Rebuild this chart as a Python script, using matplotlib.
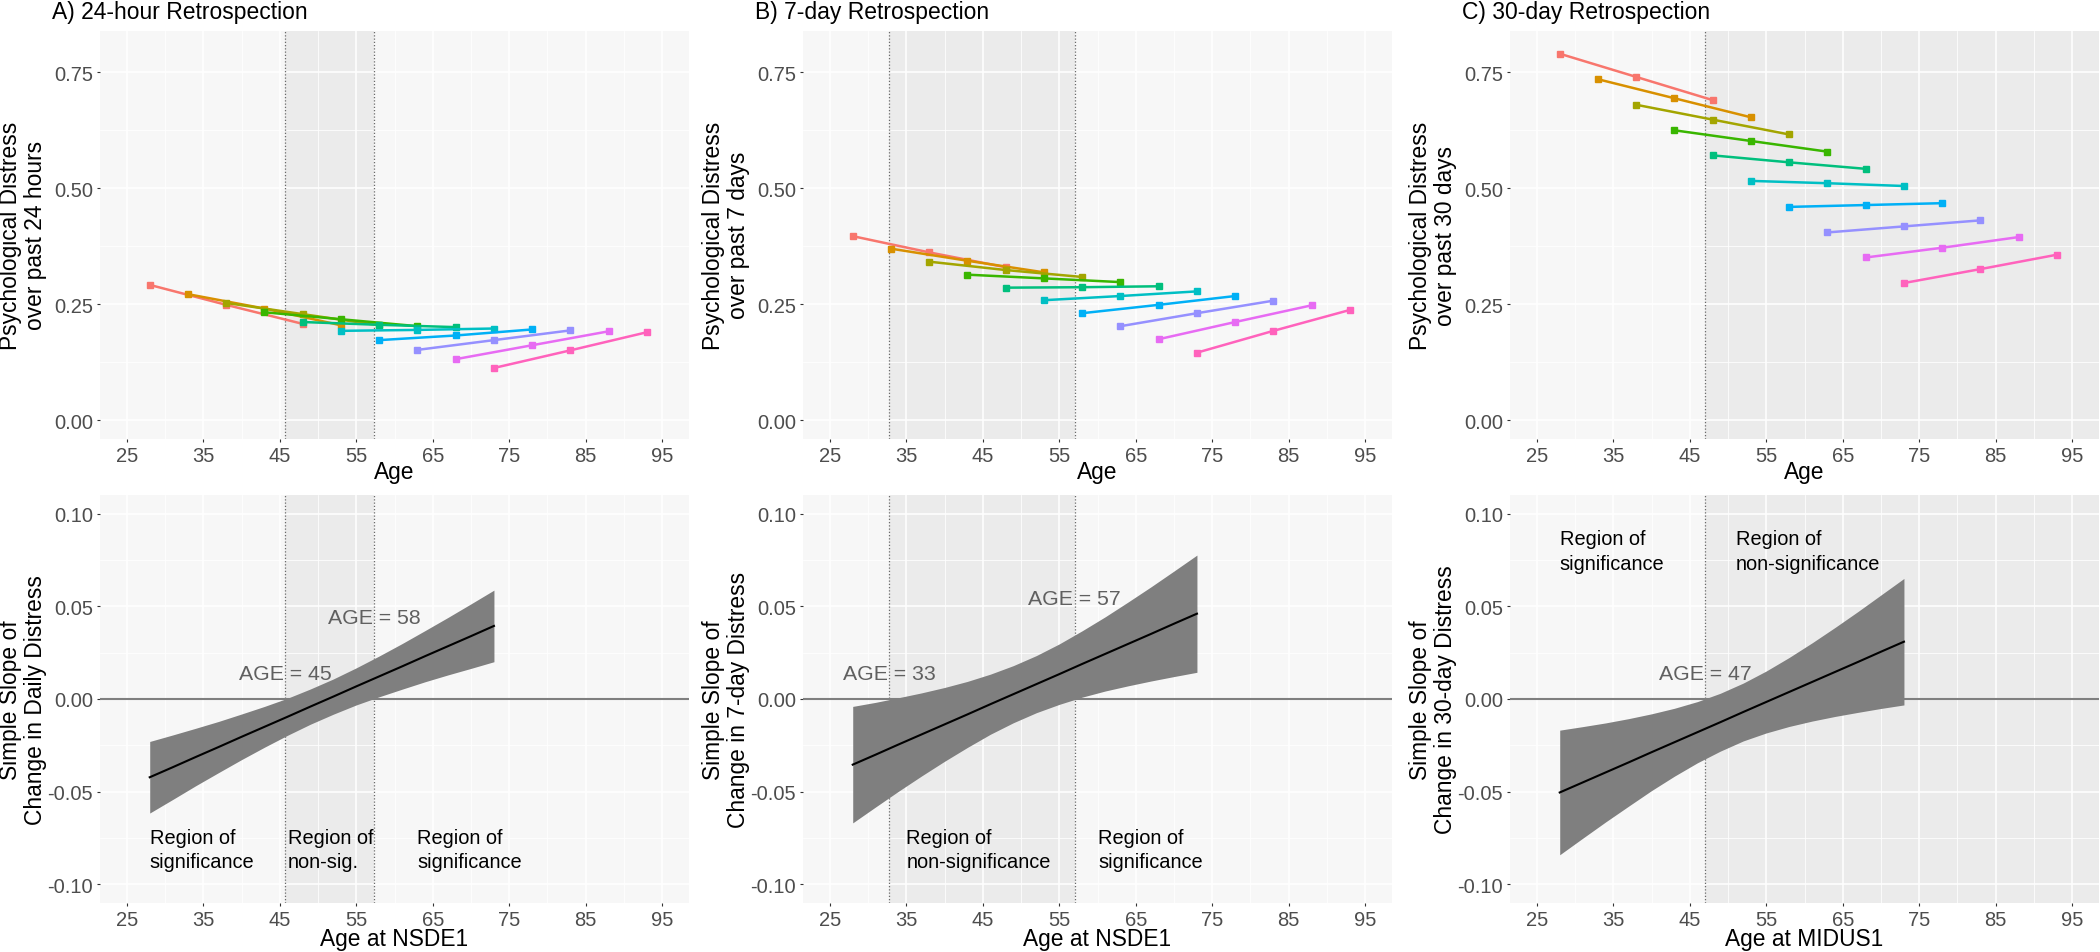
import matplotlib
matplotlib.use("Agg")
import matplotlib.pyplot as plt

plt.rcParams['font.family'] = ['Liberation Sans', 'DejaVu Sans']

# ---------------- data ----------------
cohort_start = [28, 33, 38, 43, 48, 53, 58, 63, 68, 73]
wave_offsets = [0, 10, 20]
cohort_colors = ['#F8766D', '#D89000', '#A3A500', '#39B600', '#00BF7D',
                 '#00BFC4', '#00B0F6', '#9590FF', '#E76BF3', '#FF62BC']

distress_24h = [[0.292, 0.249, 0.208], [0.272, 0.241, 0.205], [0.253, 0.229, 0.205],
                [0.233, 0.218, 0.203], [0.212, 0.206, 0.201], [0.193, 0.195, 0.198],
                [0.173, 0.183, 0.196], [0.152, 0.173, 0.194], [0.132, 0.162, 0.192],
                [0.113, 0.151, 0.190]]
distress_7d = [[0.397, 0.362, 0.330], [0.370, 0.344, 0.319], [0.342, 0.324, 0.309],
               [0.314, 0.306, 0.298], [0.286, 0.287, 0.289], [0.259, 0.268, 0.278],
               [0.231, 0.249, 0.268], [0.203, 0.231, 0.258], [0.175, 0.212, 0.248],
               [0.146, 0.193, 0.238]]
distress_30d = [[0.790, 0.740, 0.690], [0.735, 0.694, 0.653], [0.680, 0.648, 0.616],
                [0.625, 0.602, 0.579], [0.571, 0.556, 0.542], [0.516, 0.511, 0.505],
                [0.460, 0.464, 0.468], [0.405, 0.418, 0.431], [0.351, 0.372, 0.395],
                [0.296, 0.326, 0.357]]

slope_age = [28, 31, 34, 37, 40, 43, 46, 49, 52, 55, 58, 61, 64, 67, 70, 73]
slope_24h_est = [-0.0422, -0.0368, -0.0313, -0.0259, -0.0204, -0.0150, -0.0096, -0.0041,
                 0.0013, 0.0068, 0.0122, 0.0176, 0.0231, 0.0285, 0.0339, 0.0394]
slope_24h_hi = [-0.0229, -0.0194, -0.0158, -0.0121, -0.0081, -0.0040, 0.0004, 0.0054,
                0.0108, 0.0168, 0.0232, 0.0299, 0.0369, 0.0440, 0.0513, 0.0587]
slope_24h_lo = [-0.0615, -0.0542, -0.0468, -0.0397, -0.0327, -0.0260, -0.0196, -0.0136,
                -0.0082, -0.0032, 0.0012, 0.0053, 0.0093, 0.0130, 0.0165, 0.0201]
slope_7d_est = [-0.0354, -0.0300, -0.0245, -0.0191, -0.0137, -0.0083, -0.0028, 0.0026,
                0.0080, 0.0134, 0.0189, 0.0243, 0.0297, 0.0351, 0.0406, 0.0460]
slope_7d_hi = [-0.0040, -0.0018, 0.0007, 0.0033, 0.0062, 0.0095, 0.0134, 0.0180,
               0.0234, 0.0297, 0.0368, 0.0443, 0.0523, 0.0605, 0.0690, 0.0776]
slope_7d_lo = [-0.0668, -0.0582, -0.0497, -0.0415, -0.0336, -0.0261, -0.0190, -0.0128,
               -0.0074, -0.0029, 0.0010, 0.0043, 0.0071, 0.0097, 0.0121, 0.0144]
slope_30d_est = [-0.0504, -0.0450, -0.0396, -0.0342, -0.0287, -0.0233, -0.0179, -0.0125,
                 -0.0070, -0.0016, 0.0038, 0.0092, 0.0146, 0.0200, 0.0255, 0.0309]
slope_30d_hi = [-0.0168, -0.0149, -0.0129, -0.0106, -0.0080, -0.0050, -0.0014, 0.0031,
                0.0086, 0.0151, 0.0224, 0.0303, 0.0386, 0.0472, 0.0561, 0.0650]
slope_30d_lo = [-0.0840, -0.0751, -0.0663, -0.0578, -0.0494, -0.0416, -0.0344, -0.0281,
                -0.0226, -0.0183, -0.0148, -0.0119, -0.0094, -0.0072, -0.0051, -0.0032]

panel_titles = ['A) 24-hour Retrospection', 'B) 7-day Retrospection', 'C) 30-day Retrospection']
top_ylabels = ['Psychological Distress\nover past 24 hours',
               'Psychological Distress\nover past 7 days',
               'Psychological Distress\nover past 30 days']
bottom_ylabels = ['Simple Slope of\nChange in Daily Distress',
                  'Simple Slope of\nChange in 7-day Distress',
                  'Simple Slope of\nChange in 30-day Distress']
bottom_xlabels = ['Age at NSDE1', 'Age at NSDE1', 'Age at MIDUS1']

# Johnson-Neyman boundaries (age), None = open to the right edge
jn_bounds = [(45.7, 57.3), (32.8, 57.0), (47.0, None)]
jn_labels = [[('AGE = 45', 45.7, 0.0137), ('AGE = 58', 57.3, 0.044)],
             [('AGE = 33', 32.8, 0.0137), ('AGE = 57', 57.0, 0.054)],
             [('AGE = 47', 47.0, 0.0137)]]
region_texts = [[('Region of\nsignificance', 28.0, -0.0812),
                 ('Region of\nnon-sig.', 46.1, -0.0812),
                 ('Region of\nsignificance', 63.0, -0.0812)],
                [('Region of\nnon-significance', 35.0, -0.0812),
                 ('Region of\nsignificance', 60.1, -0.0812)],
                [('Region of\nsignificance', 28.0, 0.0798),
                 ('Region of\nnon-significance', 51.0, 0.0798)]]

x_ticks = [25, 35, 45, 55, 65, 75, 85, 95]
x_minor = [30, 40, 50, 60, 70, 80, 90]
top_yticks = [0.0, 0.25, 0.50, 0.75]
top_yticklabels = ['0.00', '0.25', '0.50', '0.75']
top_yminor = [0.125, 0.375, 0.625]
bot_yticks = [-0.10, -0.05, 0.0, 0.05, 0.10]
bot_yticklabels = ['-0.10', '-0.05', '0.00', '0.05', '0.10']
bot_yminor = [-0.075, -0.025, 0.025, 0.075]

top_data = [distress_24h, distress_7d, distress_30d]
bot_data = [(slope_24h_est, slope_24h_lo, slope_24h_hi),
            (slope_7d_est, slope_7d_lo, slope_7d_hi),
            (slope_30d_est, slope_30d_lo, slope_30d_hi)]

# ---------------- layout ----------------
W, H = 2100, 953
fig = plt.figure(figsize=(W / 100, H / 100), dpi=100)
fig.patch.set_facecolor('white')

col_left = [100, 803, 1510]
panel_w = 589
top_tb = (31.5, 440)
bot_tb = (496, 904)

BG = '#F7F7F7'
BAND = '#EBEBEB'
XLIM = (21.5, 98.5)


def px_axes(l, t, r, b):
    return fig.add_axes([l / W, 1 - b / H, (r - l) / W, (b - t) / H])


def style(ax, ylim, yt, ytl, ymin):
    ax.set_facecolor(BG)
    for s in ax.spines.values():
        s.set_visible(False)
    ax.set_xlim(*XLIM)
    ax.set_ylim(*ylim)
    ax.set_xticks(x_ticks)
    ax.set_xticks(x_minor, minor=True)
    ax.set_xticklabels([str(v) for v in x_ticks])
    ax.set_yticks(yt)
    ax.set_yticklabels(ytl)
    ax.set_yticks(ymin, minor=True)
    ax.set_axisbelow(True)
    ax.grid(which='major', color='white', lw=1.1, zorder=0.5)
    ax.grid(which='minor', color='white', lw=0.55, zorder=0.5)
    ax.tick_params(which='major', length=2.5, width=0.8, color='#333333',
                   labelsize=14.5, labelcolor='#4D4D4D', pad=2.5)
    ax.tick_params(which='minor', length=0)


def shade(ax, bounds):
    lo, hi = bounds
    right = hi if hi is not None else XLIM[1]
    ax.axvspan(lo, right, color=BAND, lw=0, zorder=0.2)
    ax.axvline(lo, color='#6A6A6A', lw=0.9, ls=(0, (1.0, 1.6)), zorder=0.8)
    if hi is not None:
        ax.axvline(hi, color='#6A6A6A', lw=0.9, ls=(0, (1.0, 1.6)), zorder=0.8)


for i in range(3):
    l = col_left[i]
    r = l + panel_w
    cx = (l + r) / 2

    # ---- top panel ----
    ax = px_axes(l, top_tb[0], r, top_tb[1])
    style(ax, (-0.04, 0.84), top_yticks, top_yticklabels, top_yminor)
    shade(ax, jn_bounds[i])
    for start, vals, col in zip(cohort_start, top_data[i], cohort_colors):
        ages = [start + o for o in wave_offsets]
        ax.plot(ages, vals, color=col, lw=1.8, marker='s', ms=5, zorder=3,
                solid_capstyle='butt')
    fig.text((l - 48) / W, 1 - 13 / H, panel_titles[i], fontsize=16.5,
             ha='left', va='center', color='black')
    fig.text((l - 77) / W, 1 - ((top_tb[0] + top_tb[1]) / 2) / H, top_ylabels[i],
             rotation=90, ha='center', va='center', fontsize=16.4, linespacing=1.15)
    fig.text(cx / W, 1 - 472 / H, 'Age', ha='center', va='center', fontsize=16.4)

    # ---- bottom panel ----
    ax = px_axes(l, bot_tb[0], r, bot_tb[1])
    style(ax, (-0.11, 0.11), bot_yticks, bot_yticklabels, bot_yminor)
    shade(ax, jn_bounds[i])
    ax.axhline(0, color='#7F7F7F', lw=1.5, zorder=1)
    est, lo, hi = bot_data[i]
    ax.fill_between(slope_age, lo, hi, color='#7F7F7F', lw=0, zorder=2)
    ax.plot(slope_age, est, color='black', lw=1.5, zorder=3)
    for txt, xa, ya in jn_labels[i]:
        ax.text(xa, ya, txt, ha='center', va='center', fontsize=15.3,
                color='#606060', zorder=4)
    for txt, xa, ya in region_texts[i]:
        ax.text(xa, ya, txt, ha='left', va='center', fontsize=14.4,
                color='black', linespacing=1.35, zorder=4)
    fig.text((l - 77) / W, 1 - ((bot_tb[0] + bot_tb[1]) / 2) / H, bottom_ylabels[i],
             rotation=90, ha='center', va='center', fontsize=16.4, linespacing=1.15)
    fig.text(cx / W, 1 - 940 / H, bottom_xlabels[i], ha='center', va='center',
             fontsize=16.4)

fig.savefig('out.png', dpi=100, facecolor='white')
